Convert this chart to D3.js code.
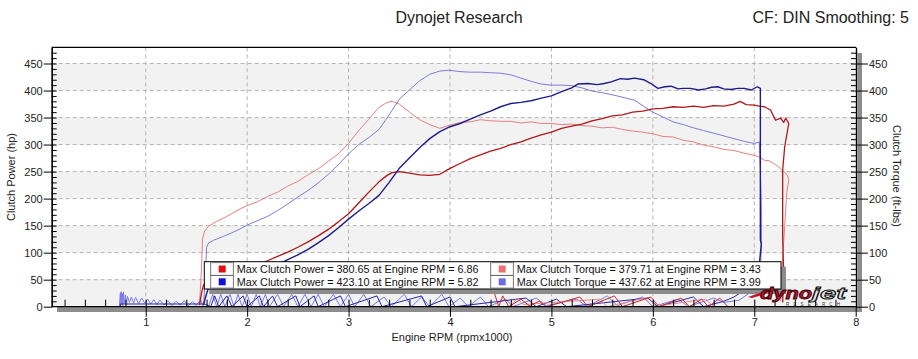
<!DOCTYPE html>
<html><head><meta charset="utf-8">
<script src="https://cdn.jsdelivr.net/npm/d3@7"></script>
<style>
body{margin:0;background:#fff;}
text{font-family:"Liberation Sans",Arial,sans-serif;}
</style>
</head><body>
<svg id="c" width="918" height="359"></svg>
<script>
// ---------- DATA ----------
const titleText = "Dynojet Research";
const cfText = "CF: DIN Smoothing: 5";
const xTickValues = [1,2,3,4,5,6,7,8];
const yTickValues = [0,50,100,150,200,250,300,350,400,450];
const xLabel = "Engine RPM (rpmx1000)";
const yLeftLabel = "Clutch Power (hp)";
const yRightLabel = "Clutch Torque (ft-lbs)";
const legendLabels = [
  "Max Clutch Power = 380.65 at Engine RPM = 6.86",
  "Max Clutch Power = 423.10 at Engine RPM = 5.82",
  "Max Clutch Torque = 379.71 at Engine RPM = 3.43",
  "Max Clutch Torque = 437.62 at Engine RPM = 3.99"
];

// Run 1 torque (light red)
const torque1Rpm = [1.53,1.55,1.56,1.58,1.62,1.70,1.80,1.90,2.00,2.10,2.20,2.30,2.40,2.50,2.60,2.70,2.80,2.90,3.00,3.10,3.20,3.30,3.38,3.43,3.50,3.60,3.70,3.80,3.90,4.00,4.10,4.20,4.30,4.40,4.50,4.60,4.70,4.80,4.90,5.00,5.10,5.20,5.30,5.40,5.50,5.60,5.70,5.80,5.90,6.00,6.10,6.20,6.30,6.40,6.50,6.60,6.70,6.80,6.90,7.00,7.05,7.10,7.15,7.20,7.24,7.27,7.30,7.33,7.34,7.32,7.31,7.30,7.29,7.28,7.27,7.26];
const torque1Val = [4,70,125,140,149,158,167,178,187,194,204,212,223,232,244,255,269,283,302,326,347,369,378,380,375,360,346,337,330,336,341,342,346,344,343,343,340,342,339,339,337,338,335,334,331,332,328,325,323,320,315,314,308,305,299,296,291,289,284,280,277,271,270,264,259,253,249,242,235,210,180,150,120,90,50,10];

// Run 1 power (dark red)
const power1Rpm = [1.53,1.55,1.57,1.62,1.70,1.80,1.90,2.00,2.10,2.20,2.30,2.40,2.50,2.60,2.70,2.80,2.90,3.00,3.10,3.20,3.30,3.38,3.43,3.50,3.60,3.70,3.80,3.90,4.00,4.10,4.20,4.30,4.40,4.50,4.60,4.70,4.80,4.90,5.00,5.10,5.20,5.30,5.40,5.50,5.60,5.70,5.80,5.90,6.00,6.10,6.20,6.30,6.40,6.50,6.60,6.70,6.80,6.86,6.92,7.00,7.05,7.10,7.16,7.21,7.26,7.29,7.31,7.34,7.30,7.28,7.28,7.28,7.29,7.28];
const power1Val = [3,25,40,46,51,58,64,71,78,85,93,101,110,120,131,143,157,172,192,212,231,243,248,250,247,244,243,245,256,265,274,281,288,293,300,305,312,318,323,330,334,338,344,348,353,355,360,362,366,367,370,369,371,369,372,371,375,380,374,373,371,370,364,345,349,341,349,339,296,253,200,130,60,8];

// Run 2 torque (light blue)
const torque2Rpm = [1.57,1.59,1.60,1.62,1.67,1.75,1.84,1.92,2.00,2.10,2.20,2.30,2.40,2.50,2.60,2.70,2.80,2.90,3.00,3.10,3.20,3.30,3.40,3.50,3.60,3.70,3.80,3.90,3.99,4.10,4.20,4.30,4.40,4.50,4.60,4.70,4.80,4.90,5.00,5.10,5.20,5.30,5.40,5.50,5.65,5.82,6.00,6.10,6.20,6.30,6.40,6.50,6.60,6.70,6.80,6.90,7.00,7.05,7.06,7.07,7.07,7.06];
const torque2Val = [5,60,110,118,123,129,136,143,151,159,167,178,190,203,215,229,245,263,283,300,313,328,355,384,401,418,430,436,437.6,435,434,434,433,432,429,423,417,412,410,410,409,405,399,396,390,382,360,351,342,337,331,326,321,316,311,306,302,305,250,180,120,60];

// Run 2 power (dark blue)
const power2Rpm = [1.57,1.59,1.62,1.67,1.75,1.84,1.92,2.00,2.10,2.20,2.30,2.40,2.50,2.60,2.70,2.80,2.90,3.00,3.10,3.20,3.30,3.40,3.50,3.60,3.70,3.80,3.90,4.00,4.10,4.20,4.30,4.40,4.50,4.60,4.70,4.80,4.90,5.00,5.10,5.20,5.26,5.36,5.45,5.52,5.59,5.68,5.75,5.82,5.91,5.98,6.05,6.12,6.18,6.25,6.30,6.37,6.45,6.52,6.58,6.64,6.70,6.77,6.84,6.90,6.97,7.03,7.06,7.06,7.06,7.07,7.04,7.00,6.95,6.88];
const power2Val = [3,18,36,39,43,47,52,57.5,63,70,78,87,96,106,118,131,146,162,177,191,206,230,256,275,294,311,324,333,339,347,355,362,370,376,378,381,386,390,398,405,412,413,411,413,416,422,421,423,420,413,404,407,408,403,404,404,401,403,406,407,403,402,404,404,401,407,404,250,123,117,60,40,32,28];

// Low-speed noise traces along the floor
const noiseLightBlueRpm = [0.74,0.75,0.755,0.76,0.765,0.77,0.775,0.78,0.79,0.80,0.81,0.82,0.84,0.86,0.88,0.90,0.93,0.96,0.99,1.02,1.05,1.08,1.11,1.14,1.18,1.22,1.26,1.30,1.34,1.38,1.42,1.46,1.50,1.54,1.57,1.62,1.66,1.70,1.74,1.78,1.83,1.87,1.91,1.95,2.00,2.04,2.09,2.13,2.18,2.22,2.30,2.36,2.44,2.50,2.57,2.63,2.70,2.76,2.85,2.92,3.00,3.06,3.15,3.22,3.35,3.42,3.55,3.62,3.72,3.80,3.92,3.99,4.10,4.18,4.30,4.38,4.55,4.62,4.85,4.95,5.25,5.35,5.55,5.65,5.90,6.00,6.25,6.35,6.60,6.70,6.85,6.95,7.00];
const noiseLightBlueVal = [0,26,3,28,5,24,2,27,6,22,4,19,8,18,7,17,6,16,7,14,5,13,4,12,3,11,2,10,3,11,2,9,2,13,0,0,23,0,23,0,23,0,23,0,23,0,23,0,23,0,23,0,23,0,23,0,23,0,23,0,23,0,23,0,18,0,23,0,18,0,23,0,16,0,18,0,14,0,16,2,14,0,20,2,18,0,14,0,16,8,12,25,28];
const noiseBlueRpm = [0.75,0.75,1.58,1.64,1.68,1.72,1.80,1.85,1.96,2.00,2.12,2.16,2.25,2.30,2.48,2.52,2.66,2.70,2.92,2.97,3.28,3.33,3.72,3.77,4.00,4.05,4.75,4.85,5.05,5.15,5.95,6.05,6.40,6.50,6.70,6.80,6.88];
const noiseBlueVal = [0,5,5,0,20,0,20,0,20,0,20,0,20,0,20,0,20,0,20,0,20,0,20,0,18,0,16,0,14,0,16,0,18,0,10,18,28];
const noiseRedRpm = [4.43,4.48,4.52,4.58,4.70,4.78,4.88,4.95,5.28,5.36,5.62,5.70,5.98,6.06,6.28,6.36,6.48,6.55,6.66,6.74];
const noiseRedVal = [30,0,20,0,14,2,10,0,18,0,20,0,18,0,16,0,14,0,16,0];
const noiseLightRedRpm = [4.60,4.66,4.72,5.48,5.55,5.92,6.00,6.52,6.60];
const noiseLightRedVal = [0,16,4,14,0,16,0,14,0];

// ---------- CHART ----------
const svg = d3.select("#c");
const L = 51.7, R = 856, T = 47.3, B = 306.7;
const x = d3.scaleLinear().domain([0, 8]).range([44.3, 855.7]);
const y = d3.scaleLinear().domain([0, 480]).range([B, T]);

svg.append("text").attr("x", 459).attr("y", 23).attr("text-anchor","middle")
  .attr("font-size", 16).attr("fill","#222").text(titleText);
svg.append("text").attr("x", 909).attr("y", 23).attr("text-anchor","end")
  .attr("font-size", 16).attr("fill","#222").text(cfText);

svg.append("rect").attr("x", 57).attr("y", B).attr("width", 805).attr("height", 5.3).attr("fill","#8c8c8c");
svg.append("rect").attr("x", R + 1.5).attr("y", 53).attr("width", 4.5).attr("height", B - 53 + 5.3).attr("fill","#8c8c8c");

svg.append("rect").attr("x", L).attr("y", T).attr("width", R - L).attr("height", B - T).attr("fill","#fff");
const bands = [[0,50],[100,150],[200,250],[300,350],[400,450]];
svg.selectAll(".band").data(bands).enter().append("rect")
  .attr("x", L).attr("width", R - L)
  .attr("y", d => y(d[1])).attr("height", d => y(d[0]) - y(d[1]))
  .attr("fill", "#f2f2f2");

const grid = svg.append("g").attr("stroke","#b4b4b4").attr("stroke-width",1).attr("stroke-dasharray","4,3");
yTickValues.filter(v => v > 0).forEach(v => {
  grid.append("line").attr("x1", L).attr("x2", R).attr("y1", y(v)).attr("y2", y(v));
});
xTickValues.filter(v => v < 8).forEach(v => {
  grid.append("line").attr("x1", x(v)).attr("x2", x(v)).attr("y1", T).attr("y2", B);
});

svg.append("clipPath").attr("id","clip").append("rect").attr("x", L).attr("y", T).attr("width", R - L).attr("height", B - T);
const plot = svg.append("g").attr("clip-path","url(#clip)");

const line = d3.line().x(d => x(d[0])).y(d => y(d[1]));
function draw(rpm, vals, color, w) {
  plot.append("path").datum(rpm.map((r,i) => [r, vals[i]]))
    .attr("d", line).attr("fill","none").attr("stroke", color)
    .attr("stroke-width", w).attr("stroke-linejoin","round");
}
draw(noiseLightBlueRpm, noiseLightBlueVal, "#7a7ae6", 1);
draw(noiseBlueRpm, noiseBlueVal, "#2626b0", 1);
draw(noiseLightRedRpm, noiseLightRedVal, "#ec8a8a", 1);
draw(noiseRedRpm, noiseRedVal, "#cc2a2a", 1);
draw(torque1Rpm, torque1Val, "#e58080", 1);
draw(torque2Rpm, torque2Val, "#7c7cd6", 1);
draw(power1Rpm, power1Val, "#b01818", 1.3);
draw(power2Rpm, power2Val, "#1c1c8a", 1.4);

svg.append("line").attr("x1", L).attr("x2", R).attr("y1", T).attr("y2", T).attr("stroke","#000").attr("stroke-width",1.3);

const fontSize = 11;
function styleAxis(g) {
  g.selectAll("path.domain").attr("stroke","#000").attr("stroke-width",1.2);
  g.selectAll(".tick line").attr("stroke","#000");
  g.selectAll("text").attr("font-size", fontSize).attr("fill","#222").attr("font-family","Liberation Sans, Arial, sans-serif");
}
const minorY = d3.range(10, 480, 10);
const minorX = d3.range(0.2, 8, 0.2).map(v => +v.toFixed(1));

const gl = svg.append("g").attr("transform", `translate(${L},0)`)
  .call(d3.axisLeft(y).tickValues(yTickValues).tickSize(8).tickPadding(1).tickSizeOuter(0));
styleAxis(gl);
const glm = svg.append("g").attr("transform", `translate(${L},0)`)
  .call(d3.axisRight(y).tickValues(minorY).tickSize(5).tickFormat("").tickSizeOuter(0));
styleAxis(glm);

const gr = svg.append("g").attr("transform", `translate(${R},0)`)
  .call(d3.axisRight(y).tickValues(yTickValues).tickSize(12).tickPadding(1).tickSizeOuter(0));
styleAxis(gr);
const grm = svg.append("g").attr("transform", `translate(${R},0)`)
  .call(d3.axisLeft(y).tickValues(minorY).tickSize(5).tickFormat("").tickSizeOuter(0));
styleAxis(grm);

const gbm = svg.append("g").attr("transform", `translate(0,${B})`)
  .call(d3.axisTop(x).tickValues(minorX).tickSize(7).tickFormat("").tickSizeOuter(0));
styleAxis(gbm);
gbm.select("path.domain").remove();
const gb = svg.append("g").attr("transform", `translate(0,${B})`)
  .call(d3.axisBottom(x).tickValues(xTickValues).tickSize(10).tickPadding(2).tickSizeOuter(0));
styleAxis(gb);
gb.select("path.domain").attr("d", `M${L},0H${R}`);

svg.append("text").attr("transform", "translate(15,177) rotate(-90)").attr("text-anchor","middle")
  .attr("font-size", 11).attr("fill","#222").text(yLeftLabel);
svg.append("text").attr("transform", "translate(893,176) rotate(90)").attr("text-anchor","middle")
  .attr("font-size", 11).attr("fill","#222").text(yRightLabel);
svg.append("text").attr("x", 452).attr("y", 341).attr("text-anchor","middle")
  .attr("font-size", 11).attr("fill","#222").text(xLabel);

const lg = svg.append("g");
const lx = 204.3, ly = 261.7, lw = 576.7, lh = 27.3;
lg.append("rect").attr("x", lx + 5).attr("y", ly + 5).attr("width", lw).attr("height", lh).attr("fill","#8c8c8c");
lg.append("rect").attr("x", lx).attr("y", ly).attr("width", lw).attr("height", lh).attr("fill","#fff").attr("stroke","#000").attr("stroke-width",1);
const swatchColors = ["#e01010","#1010d8","#ee7070","#6c6ce4"];
const cellX = [210.7, 210.7, 490.7, 490.7];
const cellY = [262.7, 275.5, 262.7, 275.5];
const textX = [236.7, 236.7, 516.7, 516.7];
legendLabels.forEach((t, i) => {
  lg.append("rect").attr("x", cellX[i]).attr("y", cellY[i]).attr("width", 22.6).attr("height", 12.6)
    .attr("fill","#fff").attr("stroke","#555").attr("stroke-width",0.8);
  lg.append("rect").attr("x", cellX[i] + 8).attr("y", cellY[i] + 2.8).attr("width", 7).attr("height", 7)
    .attr("fill", swatchColors[i]);
  lg.append("text").attr("x", textX[i]).attr("y", cellY[i] + 10).attr("font-size", 10.8).attr("fill","#111").text(t);
});

const logo = svg.append("g");
logo.append("path").attr("d","M748,297 L768,290 L766,294 L752,298 Z").attr("fill","#c8102e");
logo.append("text").attr("x", 760).attr("y", 299).attr("font-size", 17).attr("font-weight","bold")
  .attr("font-style","italic").attr("textLength", 52).attr("lengthAdjust","spacingAndGlyphs")
  .attr("fill","#c8102e").attr("stroke","#2a0000").attr("stroke-width",0.8).text("dyno");
logo.append("text").attr("x", 812).attr("y", 299).attr("font-size", 17).attr("font-weight","bold")
  .attr("font-style","italic").attr("textLength", 34).attr("lengthAdjust","spacingAndGlyphs")
  .attr("fill","#e6e6e6").attr("stroke","#111").attr("stroke-width",0.9).text("jet");
logo.append("text").attr("x", 786).attr("y", 305.5).attr("font-size", 4.5)
  .attr("textLength", 54).attr("lengthAdjust","spacing").attr("fill","#333").text("RESEARCH");
</script>
</body></html>
